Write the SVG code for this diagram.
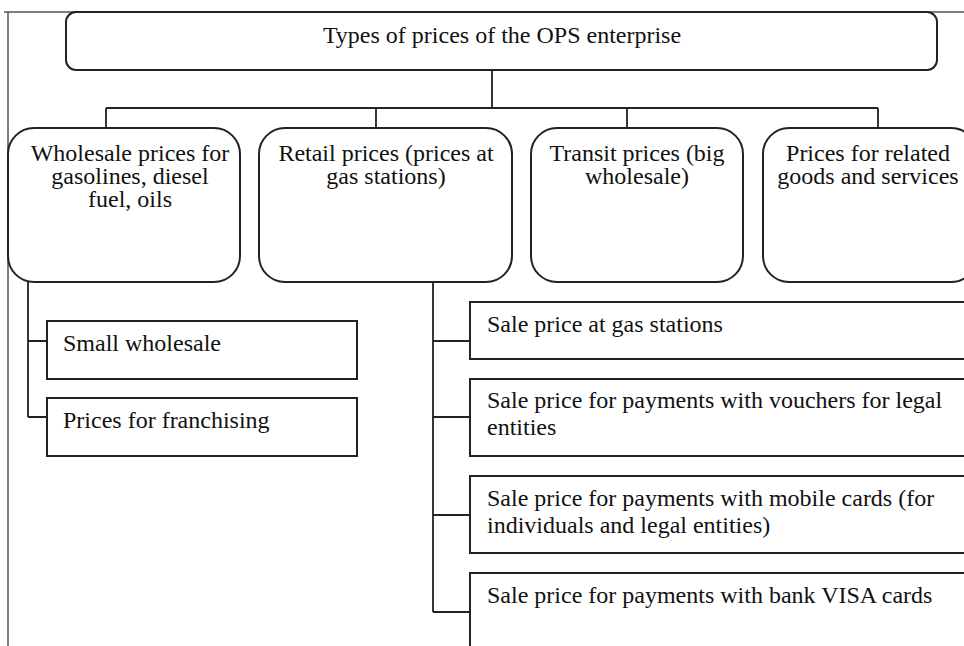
<svg xmlns="http://www.w3.org/2000/svg" width="964" height="646" viewBox="0 0 964 646">
<style>
  text { font-family: "Liberation Serif", "Times New Roman", serif; font-size: 24px; fill: #111; }
  .c { text-anchor: middle; }
  .node { fill: #fff; stroke: #222; stroke-width: 2; }
  .conn { fill: none; stroke: #222; stroke-width: 1.8; }
  .frame { fill: none; stroke: #555; stroke-width: 1.5; }
</style>
<rect width="964" height="646" fill="#fff"/>
<g id="frame">
  <line class="frame" x1="4" y1="12" x2="964" y2="12"/>
  <line class="frame" x1="8" y1="12" x2="8" y2="646"/>
</g>
<g id="connectors">
  <path class="conn" d="M492 70 V108 M106 108 H878 M106 108 V128 M376 108 V128 M627 108 V128 M878 108 V128"/>
  <path class="conn" d="M28 282 V417 M28 341 H47 M28 417 H47"/>
  <path class="conn" d="M433 282 V612 M433 341 H470 M433 417 H470 M433 515 H470 M433 612 H470"/>
</g>
<g id="root">
  <rect class="node" x="66" y="12" width="871" height="58" rx="10"/>
  <text class="c" x="502" y="43">Types of prices of the OPS enterprise</text>
</g>
<g id="wholesale">
  <rect class="node" x="8" y="128" width="232" height="154" rx="26"/>
  <text class="c" x="130" y="161">Wholesale prices for</text>
  <text class="c" x="130" y="184">gasolines, diesel</text>
  <text class="c" x="130" y="207">fuel, oils</text>
</g>
<g id="retail">
  <rect class="node" x="259" y="128" width="253" height="154" rx="26"/>
  <text class="c" x="386" y="161">Retail prices (prices at</text>
  <text class="c" x="386" y="184">gas stations)</text>
</g>
<g id="transit">
  <rect class="node" x="531" y="128" width="212" height="154" rx="26"/>
  <text class="c" x="637" y="161">Transit prices (big</text>
  <text class="c" x="637" y="184">wholesale)</text>
</g>
<g id="related">
  <rect class="node" x="763" y="128" width="214" height="154" rx="26"/>
  <text class="c" x="868" y="161">Prices for related</text>
  <text class="c" x="868" y="184">goods and services</text>
</g>
<g id="small-wholesale">
  <rect class="node" x="47" y="321" width="310" height="58"/>
  <text x="63" y="351">Small wholesale</text>
</g>
<g id="franchising">
  <rect class="node" x="47" y="398" width="310" height="58"/>
  <text x="63" y="428">Prices for franchising</text>
</g>
<g id="sale-gas">
  <rect class="node" x="470" y="302" width="500" height="57"/>
  <text x="487" y="332">Sale price at gas stations</text>
</g>
<g id="sale-vouchers">
  <rect class="node" x="470" y="379" width="500" height="77"/>
  <text x="487" y="408">Sale price for payments with vouchers for legal</text>
  <text x="487" y="435">entities</text>
</g>
<g id="sale-mobile">
  <rect class="node" x="470" y="476" width="500" height="77"/>
  <text x="487" y="506">Sale price for payments with mobile cards (for</text>
  <text x="487" y="533">individuals and legal entities)</text>
</g>
<g id="sale-visa">
  <rect class="node" x="470" y="573" width="500" height="90"/>
  <text x="487" y="603">Sale price for payments with bank VISA cards</text>
</g>
</svg>
